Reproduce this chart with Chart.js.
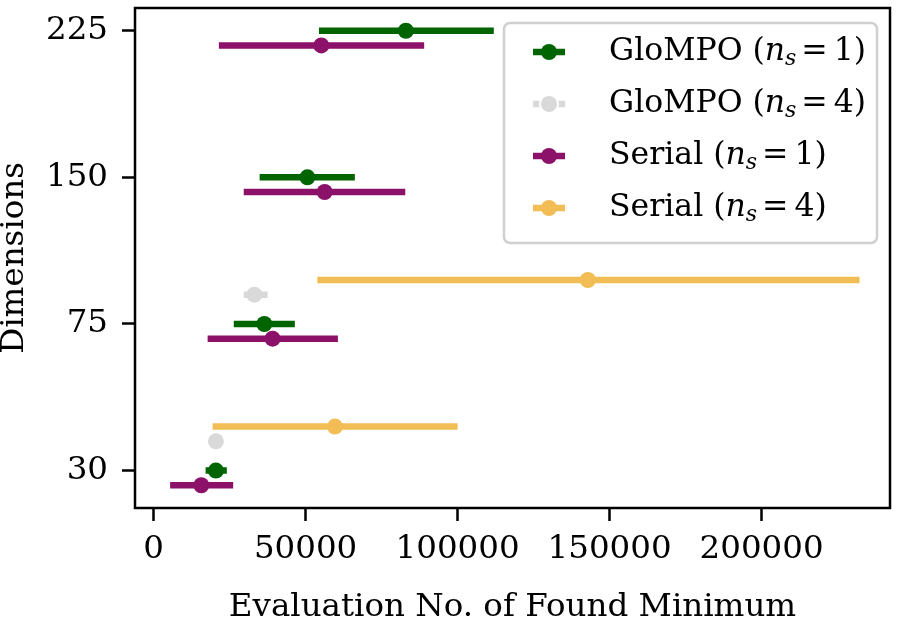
<!DOCTYPE html>
<html>
<head>
<meta charset="utf-8">
<script src="https://cdn.jsdelivr.net/npm/chart.js@4.4.1/dist/chart.umd.min.js"></script>
<style>
  html, body { margin: 0; padding: 0; background: #fff; }
  #wrap { width: 898px; height: 620px; }
</style>
</head>
<body>
<div id="wrap"><canvas id="chart" width="898" height="620"></canvas></div>
<script>
// y categories (plotted at positions 0..3)
var dimLabels = ['30', '75', '150', '225'];
var dimPos = [0, 1, 2, 3];
var xTicks = [0, 50000, 100000, 150000, 200000];

// GloMPO (n_s = 1)
var glompo1Mid = [20490, 36420, 50590, 82980];
var glompo1Lo = [17110, 26370, 34880, 54400];
var glompo1Hi = [24080, 46460, 66190, 111900];
// GloMPO (n_s = 4)
var glompo4Mid = [20490, 33150, null, null];
var glompo4Lo = [19200, 29650, null, null];
var glompo4Hi = [21800, 37500, null, null];
// Serial (n_s = 1)
var serial1Mid = [15700, 39130, 56270, 55170];
var serial1Lo = [5430, 17770, 29650, 21470];
var serial1Hi = [26180, 60630, 82780, 89000];
// Serial (n_s = 4)
var serial4Mid = [59650, 142850, null, null];
var serial4Lo = [19400, 53860, null, null];
var serial4Hi = [100000, 232200, null, null];

var FONT = "'DejaVu Serif', 'Liberation Serif', serif";
var FS = 32.5;

var series = [
	{ name: 'GloMPO', ns: '1', color: '#006400', shift: 0, mid: glompo1Mid, lo: glompo1Lo, hi: glompo1Hi },
	{ name: 'GloMPO', ns: '4', color: '#d9d9d9', shift: 0.2, mid: glompo4Mid, lo: glompo4Lo, hi: glompo4Hi, ring: true },
	{ name: 'Serial', ns: '1', color: '#8c1168', shift: -0.1, mid: serial1Mid, lo: serial1Lo, hi: serial1Hi },
	{ name: 'Serial', ns: '4', color: '#f3bd56', shift: 0.3, mid: serial4Mid, lo: serial4Lo, hi: serial4Hi }
];

var datasets = [];
series.forEach(function(s, k) {
	var bars = [], pts = [];
	dimPos.forEach(function(p, i) {
		if (s.mid[i] == null) return;
		var y = p + s.shift;
		bars.push({ x: s.lo[i], y: y }, { x: s.hi[i], y: y }, { x: s.hi[i], y: null });
		pts.push({ x: s.mid[i], y: y });
	});
	datasets.push({
		label: s.name + ' bars',
		data: bars,
		showLine: true,
		spanGaps: false,
		borderColor: s.color,
		borderWidth: 6.5,
		borderCapStyle: 'butt',
		pointRadius: 0,
		order: 20 - k * 2
	});
	datasets.push({
		label: s.name + ' (n_s = ' + s.ns + ')',
		data: pts,
		showLine: false,
		backgroundColor: s.color,
		borderColor: s.color,
		borderWidth: 0,
		pointRadius: 8,
		order: 19 - k * 2
	});
});

// axes frame like matplotlib spines
var framePlugin = {
	id: 'frame',
	afterDraw: function(chart) {
		var a = chart.chartArea, ctx = chart.ctx;
		ctx.save();
		ctx.strokeStyle = '#000';
		ctx.lineWidth = 2.5;
		ctx.strokeRect(a.left, a.top, a.right - a.left, a.bottom - a.top);
		ctx.restore();
	}
};

function drawParts(ctx, parts, x, y) {
	parts.forEach(function(p) {
		x += p.gap || 0;
		ctx.font = p.font;
		ctx.fillText(p.t, x, y + (p.dy || 0));
		x += ctx.measureText(p.t).width + (p.after || 0);
	});
}

// legend box with math-style labels
var legendPlugin = {
	id: 'mathLegend',
	afterDraw: function(chart) {
		var a = chart.chartArea, ctx = chart.ctx;
		var right = a.right - 13, top = a.top + 15;
		var w = 373, h = 220;
		var left = right - w;
		ctx.save();
		ctx.beginPath();
		ctx.roundRect(left, top, w, h, 6);
		ctx.fillStyle = 'rgba(255,255,255,0.85)';
		ctx.fill();
		ctx.strokeStyle = '#d0d0d0';
		ctx.lineWidth = 2.5;
		ctx.stroke();

		var normal = '31.5px ' + FONT;
		var ital = 'italic 31.5px ' + FONT;
		var sub = 'italic 22px ' + FONT;
		series.forEach(function(s, k) {
			var cy = top + 29 + k * 52;
			var hx = left + 29;
			ctx.strokeStyle = s.color;
			ctx.lineWidth = 6.5;
			ctx.lineCap = 'butt';
			ctx.beginPath();
			ctx.moveTo(hx, cy);
			ctx.lineTo(hx + 32, cy);
			ctx.stroke();
			if (s.ring) {
				ctx.fillStyle = '#fff';
				ctx.beginPath();
				ctx.arc(hx + 16, cy, 10, 0, Math.PI * 2);
				ctx.fill();
			}
			ctx.fillStyle = s.color;
			ctx.beginPath();
			ctx.arc(hx + 16, cy, 8, 0, Math.PI * 2);
			ctx.fill();

			ctx.fillStyle = '#000';
			ctx.textBaseline = 'alphabetic';
			ctx.textAlign = 'left';
			drawParts(ctx, [
				{ t: s.name + ' (', font: normal },
				{ t: 'n', font: ital },
				{ t: 's', font: sub, dy: 5 },
				{ t: '=', font: normal, gap: 5, after: 6 },
				{ t: s.ns + ')', font: normal }
			], left + 105, cy + 8);
		});
		ctx.restore();
	}
};

new Chart(document.getElementById('chart'), {
	type: 'scatter',
	data: { datasets: datasets },
	plugins: [framePlugin, legendPlugin],
	options: {
		responsive: false,
		animation: false,
		events: [],
		layout: { padding: { top: 3, right: 2, left: 0, bottom: 0 } },
		plugins: {
			legend: { display: false },
			tooltip: { enabled: false }
		},
		scales: {
			x: {
				type: 'linear',
				min: -6120,
				max: 242230,
				afterBuildTicks: function(scale) {
					scale.ticks = xTicks.map(function(v) { return { value: v }; });
				},
				afterFit: function(scale) {
					scale.height = 112;
					scale.paddingLeft = 0;
					scale.paddingRight = 0;
				},
				grid: { display: true, drawOnChartArea: false, drawTicks: true, tickLength: 13, tickWidth: 2.5, tickColor: '#000' },
				border: { display: false },
				ticks: {
					color: '#000',
					font: { family: FONT, size: FS },
					padding: 9,
					maxRotation: 0,
					callback: function(v) { return String(v); }
				},
				title: {
					display: true,
					text: 'Evaluation No. of Found Minimum',
					color: '#000',
					font: { family: FONT, size: FS, lineHeight: 0.76 },
					padding: 0
				}
			},
			y: {
				type: 'linear',
				min: -0.255,
				max: 3.155,
				afterBuildTicks: function(scale) {
					scale.ticks = dimPos.map(function(v) { return { value: v }; });
				},
				afterFit: function(scale) {
					scale.width = 135;
					scale.paddingTop = 0;
					scale.paddingBottom = 0;
				},
				grid: { display: true, drawOnChartArea: false, drawTicks: true, tickLength: 13, tickWidth: 2.5, tickColor: '#000' },
				border: { display: false },
				ticks: {
					color: '#000',
					font: { family: FONT, size: FS },
					padding: 14,
					callback: function(v) { return dimLabels[Math.round(v)]; }
				},
				title: {
					display: true,
					text: 'Dimensions',
					color: '#000',
					font: { family: FONT, size: FS, lineHeight: 0.88 },
					padding: 0
				}
			}
		}
	}
});
</script>
</body>
</html>
